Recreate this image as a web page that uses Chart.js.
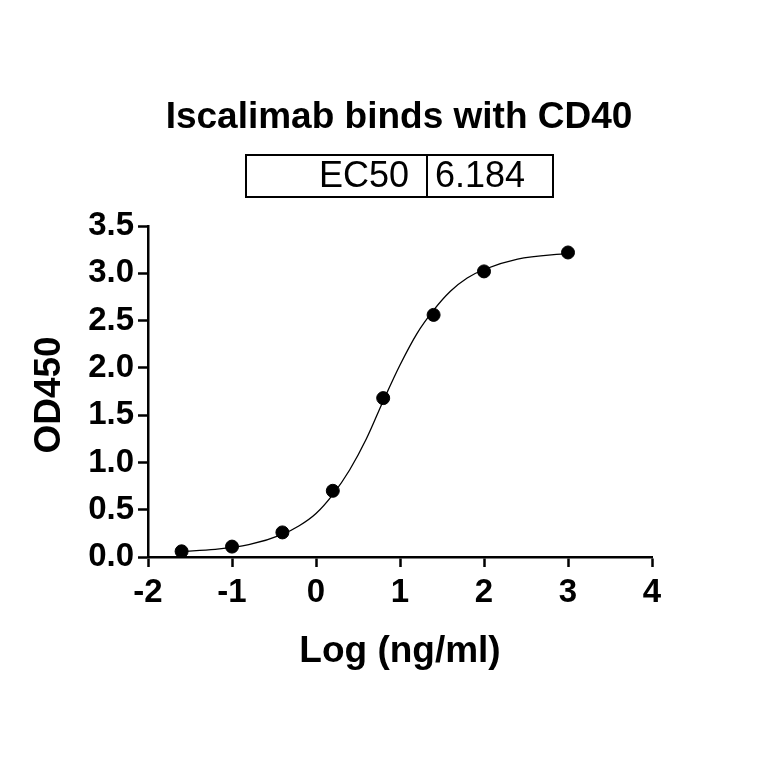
<!DOCTYPE html>
<html>
<head>
<meta charset="utf-8">
<script src="https://cdn.jsdelivr.net/npm/chart.js@4"></script>
<style>
  html, body { margin: 0; background: #fff; }
  #wrap { width: 764px; height: 764px; }
</style>
</head>
<body>
<div id="wrap"><canvas id="chart" width="764" height="764"></canvas></div>
<script>
const chartTitle = "Iscalimab binds with CD40";
const ec50Label = "EC50";
const ec50Value = "6.184";

// measured points
const pointX = [-1.6, -1.0, -0.4, 0.2, 0.8, 1.4, 2.0, 3.0];
const pointY = [0.06, 0.11, 0.26, 0.70, 1.68, 2.56, 3.02, 3.22];

// fitted curve
const curveX = [-1.6, -1.2, -0.8, -0.4, -0.2, 0.0, 0.2, 0.4, 0.6, 0.8, 1.0, 1.2, 1.4, 1.6, 1.8, 2.0, 2.4, 3.0];
const curveY = [0.06, 0.08, 0.13, 0.24, 0.33, 0.46, 0.66, 0.92, 1.25, 1.65, 2.03, 2.36, 2.61, 2.81, 2.95, 3.04, 3.15, 3.21];

const font = "'Liberation Sans', Arial, sans-serif";

const textPlugin = {
    id: "texts",
    afterDraw(chart) {
        let c = chart.ctx;
        c.save();
        c.fillStyle = "#000";
        c.textAlign = "center";
        c.textBaseline = "middle";
        c.font = "bold 37px " + font;
        c.fillText(chartTitle, 399, 118);

        // EC50 box
        c.lineWidth = 2;
        c.strokeStyle = "#000";
        c.strokeRect(246, 155, 307, 42);
        c.beginPath();
        c.moveTo(427, 155);
        c.lineTo(427, 197);
        c.stroke();
        c.font = "36px " + font;
        c.textAlign = "right";
        c.fillText(ec50Label, 409, 177);
        c.textAlign = "left";
        c.fillText(ec50Value, 435, 177);

        c.textAlign = "center";
        c.font = "bold 37px " + font;
        c.fillText("Log (ng/ml)", 400, 652);
        c.translate(50, 395);
        c.rotate(-Math.PI / 2);
        c.fillText("OD450", 0, 0);
        c.restore();
    }
};

let ctx = document.getElementById("chart").getContext("2d");

new Chart(ctx, {
    type: "scatter",
    data: {
        datasets: [{
            data: pointX.map((x, i) => ({ x: x, y: pointY[i] })),
            backgroundColor: "#000",
            borderColor: "#000",
            pointRadius: 6.5,
            showLine: false
        }, {
            data: curveX.map((x, i) => ({ x: x, y: curveY[i] })),
            borderColor: "#000",
            borderWidth: 1.3,
            pointRadius: 0,
            showLine: true,
            cubicInterpolationMode: "monotone"
        }]
    },
    plugins: [textPlugin],
    options: {
        responsive: false,
        animation: false,
        layout: { padding: { left: 0, top: 226, right: 112, bottom: 0 } },
        plugins: { legend: { display: false }, tooltip: { enabled: false } },
        scales: {
            x: {
                min: -2, max: 4,
                afterFit: s => { s.height = 207; },
                border: { color: "#000", width: 2.5 },
                grid: { drawOnChartArea: false, tickLength: 10, tickColor: "#000", tickWidth: 2.5 },
                ticks: { stepSize: 1, color: "#000", font: { family: font, size: 33, weight: "bold" }, padding: 6 }
            },
            y: {
                min: 0, max: 3.5,
                afterFit: s => { s.width = 148; },
                border: { color: "#000", width: 2.5 },
                grid: { drawOnChartArea: false, tickLength: 10, tickColor: "#000", tickWidth: 2.5 },
                ticks: { stepSize: 0.5, color: "#000", font: { family: font, size: 33, weight: "bold" },
                         padding: 4, callback: v => v.toFixed(1) }
            }
        }
    }
});
</script>
</body>
</html>
